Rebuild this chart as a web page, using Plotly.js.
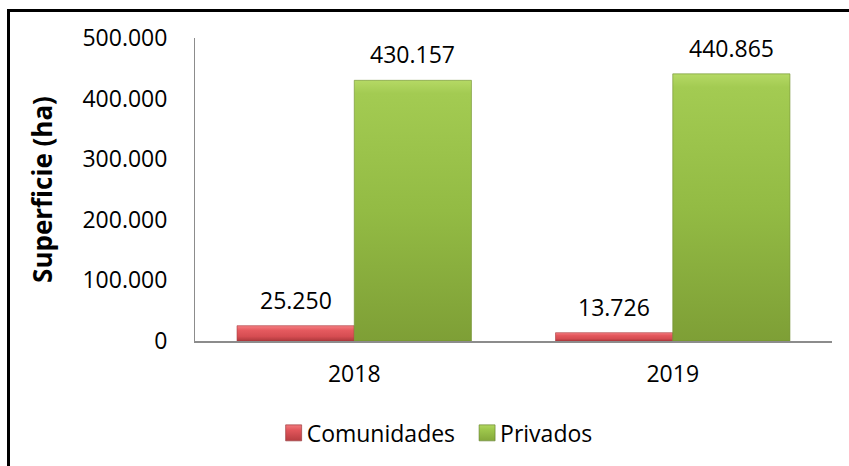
<!DOCTYPE html>
<html>
<head>
<meta charset="utf-8">
<script src="https://cdn.plot.ly/plotly-3.0.1.min.js"></script>
<style>
html,body{margin:0;padding:0;background:#fff;}
#chart{width:849px;height:466px;position:absolute;left:0;top:0;}
#frame{position:absolute;left:7px;top:9px;width:842px;height:457px;border-left:3px solid #000;border-top:3px solid #000;pointer-events:none;box-sizing:border-box;}
</style>
</head>
<body>
<div id="chart"></div>
<div id="frame"></div>
<script>
var years = ['2018', '2019'];
var comunidades = [25250, 13726];
var privados = [430157, 440865];
var seriesNames = ['Comunidades', 'Privados'];
var yTicks = [0, 100000, 200000, 300000, 400000, 500000];

var FONT = 'Open Sans, Noto Sans, sans-serif';
var BARGAP = 0.264;
var fmt = function(v){ return v.toLocaleString('de-DE'); };

var traces = [
  {type:'bar', name:seriesNames[0], x:years, y:comunidades,
   marker:{color:'#D94A4F', line:{color:'#A8383B', width:0.6}}, hoverinfo:'none'},
  {type:'bar', name:seriesNames[1], x:years, y:privados,
   marker:{color:'#94BB45', line:{color:'#6F8F2E', width:0.6}}, hoverinfo:'none'}
];

var off = (1 - BARGAP) / 4;
var annotations = [];
[comunidades, privados].forEach(function(arr, si){
  arr.forEach(function(v, i){
    annotations.push({x: i + (si === 0 ? -off : off), y: v, xref:'x', yref:'y',
      text: fmt(v), showarrow:false, yanchor:'bottom', yshift:8,
      font:{family:FONT, size:23, color:'#000'}});
  });
});

var layout = {
  width:849, height:466,
  margin:{l:195, r:17, t:38, b:125},
  paper_bgcolor:'#fff', plot_bgcolor:'#fff',
  separators:',.',
  barmode:'group', bargap:BARGAP, bargroupgap:0,
  font:{family:FONT, size:23, color:'#000'},
  showlegend:true,
  legend:{orientation:'h', xref:'container', yref:'container', x:0.509, y:0.071,
    xanchor:'center', yanchor:'middle', font:{family:FONT, size:23, color:'#000'},
    itemwidth:30, traceorder:'normal'},
  xaxis:{type:'category', showline:true, linecolor:'#8C8C8C', linewidth:1.5,
    ticks:'', showgrid:false, zeroline:false, ticklabelstandoff:12,
    tickfont:{family:FONT, size:23, color:'#000'}},
  yaxis:{range:[0,500000], tickvals:yTicks, tickformat:',d', showline:true,
    linecolor:'#8C8C8C', linewidth:1, ticks:'', showgrid:false, zeroline:false,
    ticklabelstandoff:22, tickfont:{family:FONT, size:23, color:'#000'},
    title:{text:'<b>Superficie (ha)</b>', font:{family:FONT, size:26, color:'#000'}, standoff:22}},
  annotations:annotations
};

Plotly.newPlot('chart', traces, layout, {staticPlot:true, displayModeBar:false}).then(function(gd){
  var svg = gd.querySelector('svg.main-svg');
  var ns = 'http://www.w3.org/2000/svg';
  var defs = document.createElementNS(ns, 'defs');
  function grad(id, stops){
    var g = document.createElementNS(ns, 'linearGradient');
    g.setAttribute('id', id); g.setAttribute('x1','0'); g.setAttribute('y1','0');
    g.setAttribute('x2','0'); g.setAttribute('y2','1');
    stops.forEach(function(s){
      var st = document.createElementNS(ns, 'stop');
      st.setAttribute('offset', s[0]); st.setAttribute('stop-color', s[1]);
      g.appendChild(st);
    });
    defs.appendChild(g);
  }
  grad('gRedS', [['0','#F27A7D'],['0.35','#E0555A'],['1','#B73D41']]);
  grad('gGrnS', [['0','#B2D660'],['0.3','#9EC74C'],['1','#84A83A']]);
  grad('gRed', [['0','#F58084'],['0.3','#E55A5F'],['0.7','#D64D52'],['1','#AD383C']]);
  grad('gGrn', [['0','#B5D965'],['0.05','#A3CB52'],['0.5','#93BB44'],['1','#7E9F36']]);
  svg.insertBefore(defs, svg.firstChild);
  var barTraces = gd.querySelectorAll('.barlayer .trace');
  barTraces.forEach(function(t, i){
    t.querySelectorAll('path').forEach(function(p){
      p.style.fill = i === 0 ? 'url(#gRed)' : 'url(#gGrn)';
    });
  });
  var legTraces = gd.querySelectorAll('.legend .traces');
  legTraces.forEach(function(t, i){
    t.querySelectorAll('.legendpoints path').forEach(function(p){
      p.setAttribute('d', 'M15,8H-1V-8H15Z');
      p.style.fill = i === 0 ? 'url(#gRedS)' : 'url(#gGrnS)';
      p.style.stroke = i === 0 ? '#8E2E31' : '#5E7A26';
      p.style.strokeWidth = '0.6px';
    });
  });
});
</script>
</body>
</html>
